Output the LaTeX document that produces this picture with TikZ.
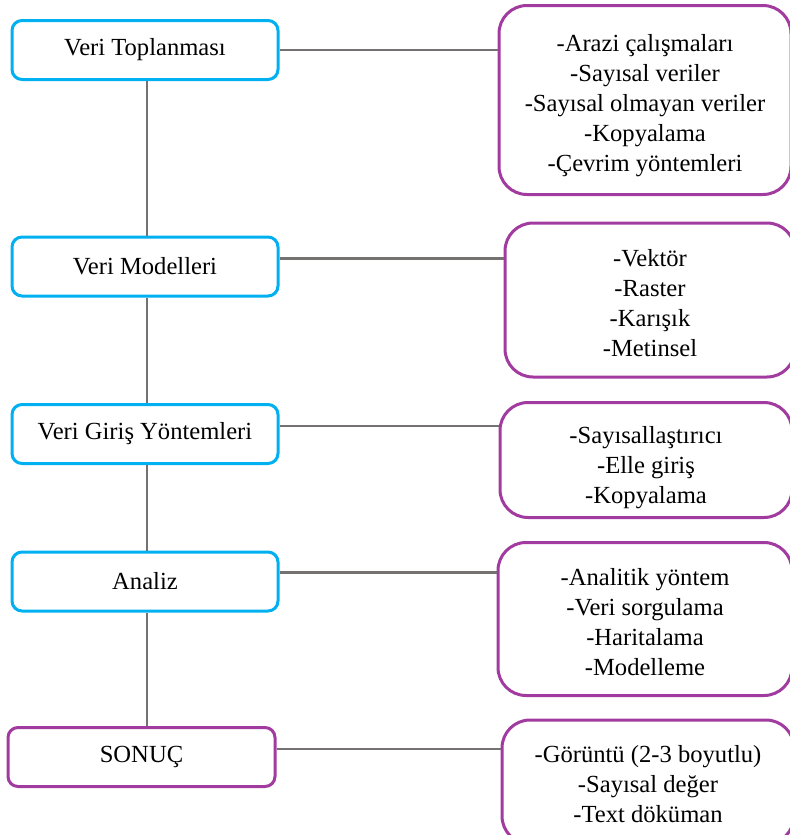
\documentclass[tikz,border=0pt]{standalone}
\usepackage{fontspec}
\setmainfont{Liberation Serif}
\definecolor{skyblue}{HTML}{00B0F0}
\definecolor{plum}{HTML}{A23BA0}
\definecolor{linegray}{HTML}{767171}
\begin{document}
\begin{tikzpicture}[x=0.5pt,y=-0.5pt,
	font=\fontsize{12.3}{15}\selectfont,
	stage/.style={draw=skyblue, line width=1.5pt, rounded corners=5pt, fill=white,
		minimum width=133pt, minimum height=29.5pt, inner sep=0pt},
	items/.style={draw=plum, line width=1.5pt, rounded corners=14pt, fill=white,
		align=center, minimum width=146pt, inner sep=0pt},
	conn/.style={draw=linegray, line width=1.3pt}]

\useasboundingbox (0,0) rectangle (789,835);

\node[stage] (lb1) at (145,50) {Veri Toplanması};
\node[stage] (lb2) at (145,266.5) {Veri Modelleri};
\node[stage] (lb3) at (145,434) {Veri Giriş Yöntemleri};
\node[stage] (lb4) at (145,581.5) {Analiz};
\node[stage, draw=plum, minimum width=133.5pt] (lb5) at (141.5,757) {SONUÇ};

\node[items, minimum height=94.5pt, text height=74.5pt] (rb1) at (645,100)
	{-Arazi çalışmaları\\-Sayısal veriler\\-Sayısal olmayan veriler\\-Kopyalama\\-Çevrim yöntemleri};
\node[items, minimum height=77pt, minimum width=145pt, text height=56.5pt] (rb2) at (650,300)
	{-Vektör\\-Raster\\-Karışık\\-Metinsel};
\node[items, minimum height=57.5pt, text height=46.5pt] (rb3) at (646,460)
	{-Sayısallaştırıcı\\-Elle giriş\\-Kopyalama};
\node[items, minimum height=76.5pt, minimum width=147pt, text height=56.5pt] (rb4) at (645,619)
	{-Analitik yöntem\\-Veri sorgulama\\-Haritalama\\-Modelleme};
\node[items, minimum height=62pt, text height=40.5pt] (rb5) at (648,782)
	{-Görüntü (2-3 boyutlu)\\-Sayısal değer\\-Text döküman};

\foreach \from/\to in {lb1/lb2, lb2/lb3, lb3/lb4, lb4/lb5}
	\draw[conn] ([xshift=1pt]\from.south) -- ([xshift=1pt]\from.south |- \to.north);

\foreach \from/\to/\dy in {lb1/rb1/0, lb2/rb2/4, lb3/rb3/4, lb4/rb4/4.5, lb5/rb5/4}
	\draw[conn] ([yshift=\dy pt]\from.east) -- ([yshift=\dy pt]\from.east -| \to.west);

\end{tikzpicture}
\end{document}
